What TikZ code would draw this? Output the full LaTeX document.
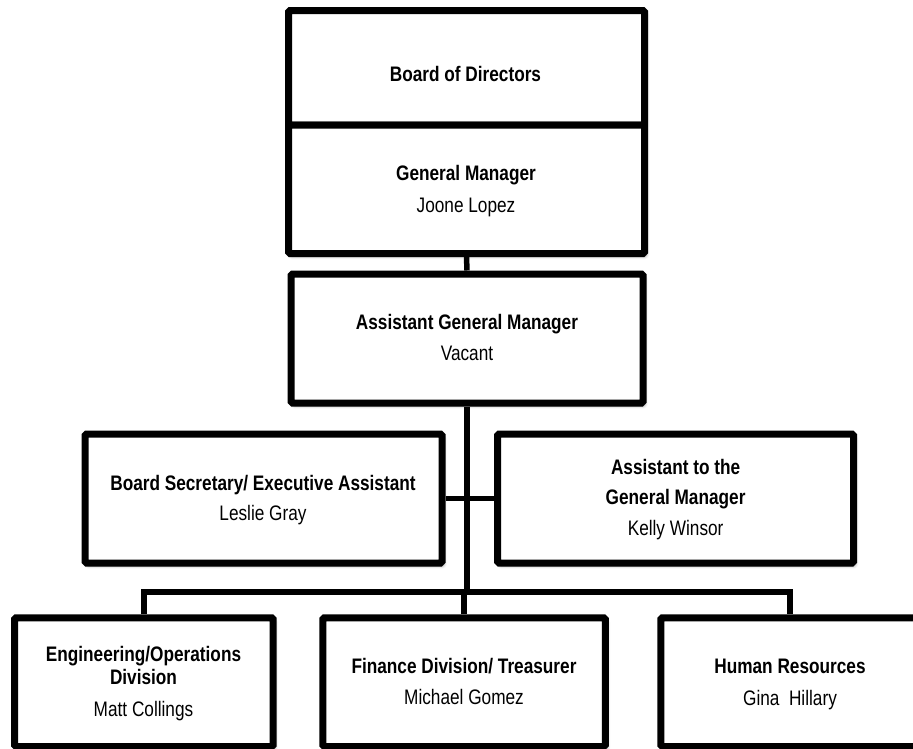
\documentclass[tikz,border=0pt]{standalone}
\usepackage{fontspec}
\setmainfont{Liberation Sans}[FakeStretch=0.82]
\usetikzlibrary{shadows.blur}
\begin{document}
\begin{tikzpicture}[x=1pt,y=-1pt,
  box/.style={draw=black, line width=7pt, fill=white, rounded corners=1.5pt, inner sep=0pt,
    blur shadow={shadow xshift=2pt, shadow yshift=-3pt, shadow blur radius=3pt, shadow opacity=40}},
  conn/.style={draw=black, line width=5.5pt},
  t/.style={anchor=base, inner sep=0pt, font=\fontsize{21}{23}\selectfont},
  tb/.style={anchor=base, inner sep=0pt, font=\fontsize{21}{23}\selectfont\bfseries}]
\useasboundingbox (0,0) rectangle (913,748);
\clip (0,0) rectangle (913,748);
\coordinate (j) at (467,592);
% boxes
\node[box, minimum width=356pt, minimum height=114.5pt] (bod) at (466.5,67.75) {};
\node[box, minimum width=356pt, minimum height=128.5pt] (gm) at (466.5,189.25) {};
\node[box, minimum width=352pt, minimum height=129pt] (agm) at (467,338.5) {};
\node[box, minimum width=357pt, minimum height=129pt] (sec) at (263.5,498.5) {};
\node[box, minimum width=356pt, minimum height=129pt] (asst) at (675.5,498.5) {};
\node[box, minimum width=258.7pt, minimum height=128.7pt] (eng) at (143.85,682.15) {};
\node[box, minimum width=282.5pt, minimum height=128.7pt] (fin) at (464,682.15) {};
\node[box, minimum width=258.4pt, minimum height=128.7pt] (hr) at (790,682.15) {};
% connectors
\draw[conn] (gm.south) -- (agm.north);
\draw[conn] (agm.south) -- (agm.south |- j);
\draw[conn] (sec.east) -- (asst.west);
\draw[conn] (eng.north) -- (eng.north |- j) -- (hr.north |- j) -- (hr.north);
\draw[conn] (fin.north) -- (fin.north |- j);
% texts
\node[tb] (bodT) at (465.5,81.7) {Board of Directors};
\node[tb] (gmT) at (466,180) {General Manager};
\node[t] (gmN) at (466,212) {Joone Lopez};
\node[tb] (agmT) at (467,329) {Assistant General Manager};
\node[t] (agmN) at (467,360.7) {Vacant};
\node[tb] (secT) at (263,490) {Board Secretary/ Executive Assistant};
\node[t] (secN) at (263,520.7) {Leslie Gray};
\node[tb] (asstT1) at (675.6,474) {Assistant to the};
\node[tb] (asstT2) at (675.6,504) {General Manager};
\node[t] (asstN) at (675.6,535) {Kelly Winsor};
\node[tb] (engT1) at (143.5,661.7) {Engineering/Operations};
\node[tb] (engT2) at (143.5,684.3) {Division};
\node[t] (engN) at (143.5,716) {Matt Collings};
\node[tb] (finT) at (464,673.3) {Finance Division/ Treasurer};
\node[t] (finN) at (464,704.5) {Michael Gomez};
\node[tb] (hrT) at (790,673.3) {Human Resources};
\node[t] (hrN) at (790,705) {Gina\ \ Hillary};
\end{tikzpicture}
\end{document}
